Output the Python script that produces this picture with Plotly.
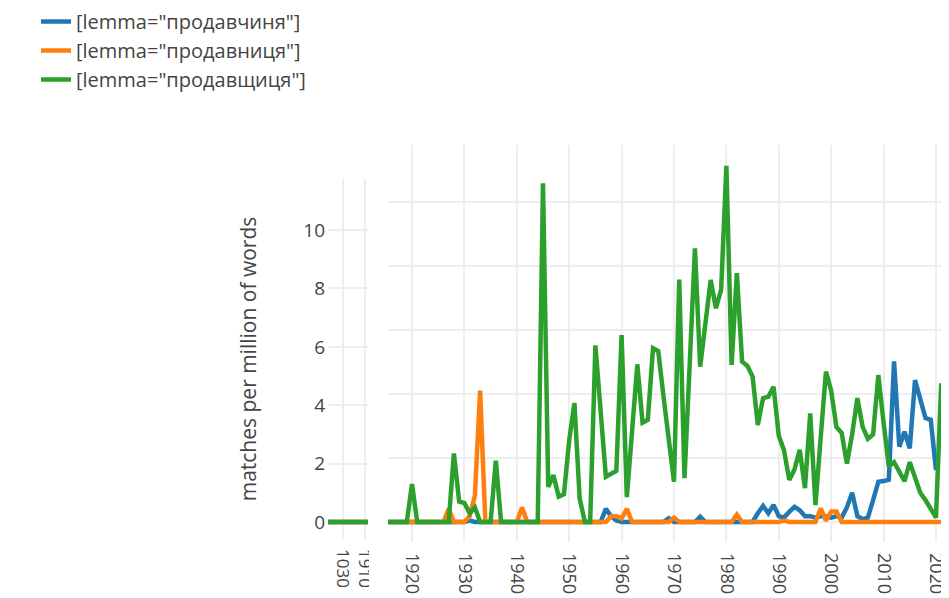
import plotly.graph_objects as go

# ---------------- data ----------------
years = list(range(1893, 2022))

prodavchynia = [  # blue
    0, 0, 0, 0, 0, 0, 0,                                   # 1893-1899
    0, 0, 0, 0, 0, 0, 0, 0, 0, 0,                          # 1900s
    0, 0, 0, 0, 0, 0, 0, 0, 0, 0,                          # 1910s
    0, 0, 0, 0, 0, 0, 0, 0, 0, 0,                          # 1920s
    0, 0.05, 0, 0, 0, 0, 0, 0, 0, 0,                       # 1930s
    0, 0, 0, 0, 0, 0, 0, 0, 0, 0,                          # 1940s
    0, 0, 0, 0, 0, 0, 0, 0.45, 0.2, 0.05,                  # 1950s
    0, 0, 0, 0, 0, 0, 0, 0, 0, 0.13,                       # 1960s
    0, 0, 0, 0, 0, 0.18, 0, 0, 0, 0,                       # 1970s
    0, 0, 0, 0, 0, 0, 0.3, 0.55, 0.3, 0.58,                # 1980s
    0.2, 0.15, 0.35, 0.52, 0.4, 0.2, 0.2, 0.15, 0.2, 0.2,  # 1990s
    0.15, 0.2, 0.15, 0.5, 1.0, 0.2, 0.1, 0.15, 0.75, 1.38, # 2000s
    1.4, 1.45, 5.5, 2.58, 3.09, 2.52, 4.86, 4.2, 3.56, 3.5,# 2010s
    1.78, None,                                            # 2020-2021
]

prodavnytsia = [  # orange
    0, 0, 0, 0, 0, 0, 0,
    0, 0, 0, 0, 0, 0, 0, 0, 0, 0,
    0, 0, 0, 0, 0, 0, 0, 0, 0, 0,
    0, 0, 0, 0, 0, 0, 0, 0.45, 0, 0,
    0, 0.2, 0.9, 4.5, 0, 0, 0, 0, 0, 0,
    0, 0.5, 0, 0, 0, 0, 0, 0, 0, 0,
    0, 0, 0, 0, 0, 0, 0, 0, 0.2, 0.2,
    0.12, 0.45, 0, 0, 0, 0, 0, 0, 0, 0,
    0.15, 0, 0, 0, 0, 0, 0, 0, 0, 0,
    0, 0, 0.25, 0, 0, 0, 0, 0, 0, 0,
    0, 0.05, 0, 0, 0, 0, 0, 0, 0.47, 0.05,
    0.36, 0.36, 0, 0, 0, 0, 0, 0, 0, 0,
    0, 0, 0, 0, 0, 0, 0, 0, 0, 0,
    0, 0,
]

prodavshchytsia = [  # green
    0, 0, 0, 0, 0, 0, 0,
    0, 0, 0, 0, 0, 0, 0, 0, 0, 0,
    0, 0, 0, 0, 0, 0, 0, 0, 0, 0,
    1.3, 0, 0, 0, 0, 0, 0, 0, 2.35, 0.7,
    0.65, 0.3, 0.5, 0, 0, 0, 2.1, 0, 0, 0,
    0, 0, 0, 0, 0, 11.6, 1.2, 1.6, 0.87, 0.95,
    2.8, 4.07, 0.8, 0, 0, 6.05, 3.8, 1.55, 1.65, 1.75,
    6.4, 0.85, 3.1, 5.4, 3.4, 3.5, 5.95, 5.85, 4.3, 2.7,
    1.38, 8.3, 1.5, 5.4, 9.37, 5.32, 6.8, 8.29, 7.32, 7.95,
    12.2, 5.38, 8.52, 5.49, 5.35, 4.98, 3.32, 4.24, 4.29, 4.63,
    2.95, 2.45, 1.44, 1.8, 2.47, 1.16, 3.72, 0.58, 2.9, 5.15,
    4.5, 3.25, 3.05, 2.0, 3.0, 4.24, 3.26, 2.85, 3.0, 5.03,
    3.4, 1.9, 2.05, 1.7, 1.4, 2.05, 1.5, 1.0, 0.75, 0.45,
    0.15, 4.75,
]

series_names = ['[lemma="продавчиня"]', '[lemma="продавниця"]', '[lemma="продавщиця"]']
series_values = [prodavchynia, prodavnytsia, prodavshchytsia]
series_colors = ["#1f77b4", "#ff7f0e", "#2ca02c"]

main_tick_years = [1920, 1930, 1940, 1950, 1960, 1970, 1980, 1990, 2000, 2010, 2020]
left_tick_years = [1900, 1910]
left_tick_text = ["1030", "1910"]
y_ticks = [0, 2, 4, 6, 8, 10]
y_title = "matches per million of words"

# ---------------- figure ----------------
# the page body has an 8px margin, so the figure is drawn at (8, 8)
OFF = 8
FW, FH = 949 - OFF, 598 - OFF

def sx(p):  # screen x pixel -> paper fraction
    return (p - OFF) / FW

def sy(p):  # screen y pixel -> paper fraction
    return 1 - (p - OFF) / FH

fig = go.Figure()
for name, vals, col in zip(series_names, series_values, series_colors):
    fig.add_trace(go.Scatter(x=years, y=vals, mode="lines", name=name,
                             line=dict(color=col, width=4.5),
                             xaxis="x", yaxis="y", showlegend=False))
for name, vals, col in zip(series_names, series_values, series_colors):
    fig.add_trace(go.Scatter(x=years, y=vals, mode="lines", name=name,
                             line=dict(color=col, width=4.5),
                             xaxis="x2", yaxis="y2", showlegend=True))

grid = "#eeeeee"
txt = "#444444"
font_family = "Open Sans"

# main-panel grid spacing (different from data scale in the reference)
grid_ratio = 32 / 29.2
main_grid_vals = [v * grid_ratio for v in y_ticks]

fig.update_layout(
    width=FW, height=FH, autosize=False,
    margin=dict(l=0, r=0, t=0, b=0, autoexpand=False),
    paper_bgcolor="white", plot_bgcolor="white",
    font=dict(family=font_family, color=txt),
    showlegend=True,
    legend=dict(x=sx(36), y=sy(2), xanchor="left", yanchor="top",
                bgcolor="rgba(0,0,0,0)", font=dict(size=20, color=txt),
                tracegroupgap=0),
    xaxis=dict(domain=[sx(328), sx(368)], range=[1893.2, 1911.4],
               tickvals=left_tick_years, ticktext=left_tick_text,
               tickangle=90, tickfont=dict(size=17, color=txt),
               ticklabelstandoff=9, automargin=False, ticklabeloverflow="allow",
               showgrid=True, gridcolor=grid, gridwidth=2,
               zeroline=False, showline=False, anchor="y"),
    yaxis=dict(domain=[sy(539), sy(179)], range=[-0.58, 11.75],
               tickvals=y_ticks, tickfont=dict(size=19, color=txt),
               ticklabelstandoff=2, automargin=False,
               showgrid=True, gridcolor=grid, gridwidth=2,
               zeroline=False, showline=False, anchor="x",
               title=dict(text=y_title, font=dict(size=21, color=txt), standoff=40)),
    xaxis2=dict(domain=[sx(388), sx(942)], range=[1915.42, 2021.15],
                tickvals=main_tick_years, tickangle=90,
                tickfont=dict(size=18, color=txt), ticklabelstandoff=10,
                automargin=False, ticklabeloverflow="allow",
                showgrid=True, gridcolor=grid, gridwidth=2,
                zeroline=False, showline=False, anchor="y2"),
    yaxis2=dict(domain=[sy(542), sy(145)], range=[-0.685, 12.91],
                tickvals=main_grid_vals, showticklabels=False, automargin=False,
                showgrid=True, gridcolor=grid, gridwidth=2,
                zeroline=False, showline=False, anchor="x2"),
    shapes=[dict(type="rect", xref="paper", yref="paper",
                 x0=sx(369), x1=sx(386), y0=0, y1=sy(545),
                 fillcolor="white", line=dict(width=0), layer="above")],
)

fig.write_html("out.html")
